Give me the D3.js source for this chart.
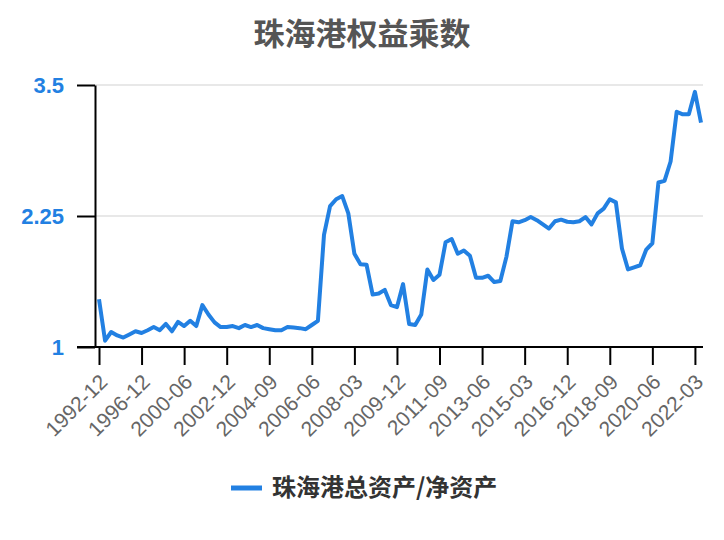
<!DOCTYPE html>
<html>
<head>
<meta charset="utf-8">
<script src="https://cdn.jsdelivr.net/npm/d3@7"></script>
<style>
  body { margin: 0; background: #fff; }
  svg { display: block; }
</style>
</head>
<body>
<div class="chart"></div>
<script>
// report dates (x categories)
var dates = [
  "1992-12", "1993-06", "1993-12", "1994-06", "1994-12", "1995-06", "1995-12",
  "1996-12", "1997-06", "1997-12", "1998-06", "1998-12", "1999-06", "1999-12",
  "2000-06", "2000-12", "2001-06", "2001-12", "2002-03", "2002-06", "2002-09",
  "2002-12",
  "2003-03", "2003-06", "2003-09", "2003-12",
  "2004-03", "2004-06", "2004-09", "2004-12",
  "2005-03", "2005-06", "2005-09", "2005-12",
  "2006-03", "2006-06", "2006-09", "2006-12",
  "2007-03", "2007-06", "2007-09", "2007-12",
  "2008-03", "2008-06", "2008-09", "2008-12",
  "2009-03", "2009-06", "2009-09", "2009-12",
  "2010-03", "2010-06", "2010-09", "2010-12",
  "2011-03", "2011-06", "2011-09", "2011-12",
  "2012-03", "2012-06", "2012-09", "2012-12",
  "2013-03", "2013-06", "2013-09", "2013-12",
  "2014-03", "2014-06", "2014-09", "2014-12",
  "2015-03", "2015-06", "2015-09", "2015-12",
  "2016-03", "2016-06", "2016-09", "2016-12",
  "2017-03", "2017-06", "2017-09", "2017-12",
  "2018-03", "2018-06", "2018-09", "2018-12",
  "2019-03", "2019-06", "2019-09", "2019-12",
  "2020-03", "2020-06", "2020-09", "2020-12",
  "2021-03", "2021-06", "2021-09", "2021-12",
  "2022-03", "2022-06"
];

// 总资产/净资产
var multiplier = [
  1.455, 1.06, 1.143, 1.11, 1.09, 1.12, 1.15,
  1.134, 1.16, 1.19, 1.16, 1.22, 1.15, 1.24,
  1.20, 1.25, 1.20, 1.40, 1.31, 1.235, 1.19,
  1.19,
  1.20, 1.18, 1.21, 1.19,
  1.21, 1.18, 1.17, 1.16,
  1.16, 1.19, 1.185, 1.18,
  1.17, 1.21, 1.25, 2.07,
  2.345, 2.41, 2.44, 2.275,
  1.89, 1.79, 1.785, 1.50,
  1.51, 1.545, 1.40, 1.38,
  1.60, 1.22, 1.21, 1.31,
  1.74, 1.64, 1.69, 2.00,
  2.03, 1.89, 1.92, 1.87,
  1.66, 1.66, 1.68, 1.62,
  1.63, 1.86, 2.20, 2.19,
  2.21, 2.24, 2.21, 2.17,
  2.13, 2.20, 2.215, 2.195,
  2.19, 2.20, 2.24, 2.17,
  2.275, 2.32, 2.41, 2.38,
  1.94, 1.74, 1.76, 1.78,
  1.93, 1.99, 2.57, 2.585,
  2.77, 3.245, 3.22, 3.22,
  3.435, 3.14
];

var xTickLabels = ["1992-12", "1996-12", "2000-06", "2002-12", "2004-09", "2006-06",
  "2008-03", "2009-12", "2011-09", "2013-06", "2015-03", "2016-12", "2018-09",
  "2020-06", "2022-03"];
var yTicks = [1, 2.25, 3.5];

var title = "珠海港权益乘数";
var seriesName = "珠海港总资产/净资产";

var width = 724, height = 540;
var blue = "#2280e2";
var cjk = "'Noto Sans CJK SC', 'Noto Sans', sans-serif";
var latin = "'Liberation Sans', Arial, sans-serif";

var svg = d3.select(".chart").append("svg")
    .attr("width", width)
    .attr("height", height);

var x = d3.scalePoint()
    .domain(dates)
    .range([99, 701]);

var y = d3.scaleLinear()
    .domain([1, 3.5])
    .range([347, 85]);

var axisLeftX = 95, axisRight = 703;

// title
svg.append("text")
    .attr("x", 362)
    .attr("y", 45)
    .attr("text-anchor", "middle")
    .attr("font-family", cjk)
    .attr("font-size", 31)
    .attr("font-weight", "bold")
    .attr("fill", "#555")
    .text(title);

// grid lines
svg.append("g")
    .selectAll("line")
    .data(yTicks.filter(function (d) { return d !== 1; }))
    .enter()
    .append("line")
    .attr("x1", axisLeftX)
    .attr("x2", axisRight)
    .attr("y1", function (d) { return y(d); })
    .attr("y2", function (d) { return y(d); })
    .attr("stroke", "#e0e0e0")
    .attr("stroke-width", 1.5);

// y axis
var gy = svg.append("g")
    .attr("transform", "translate(" + axisLeftX + ",0)")
    .call(d3.axisLeft(y).tickValues(yTicks).tickSize(18).tickSizeOuter(0)
        .tickFormat(function (d) { return String(d); }));
gy.select(".domain").attr("stroke", "#000").attr("stroke-width", 2);
gy.selectAll(".tick line").attr("stroke", "#000").attr("stroke-width", 2);
gy.selectAll(".tick text")
    .attr("x", -31)
    .attr("dy", "0.35em")
    .attr("font-family", latin)
    .attr("font-size", 22)
    .attr("font-weight", "bold")
    .attr("fill", blue);

// x axis
var gx = svg.append("g")
    .attr("transform", "translate(0," + y(1) + ")")
    .call(d3.axisBottom(x).tickValues(xTickLabels).tickSize(18).tickSizeOuter(0));
gx.select(".domain").remove();
gx.append("line")
    .attr("x1", axisLeftX - 18)
    .attr("x2", axisRight)
    .attr("stroke", "#000")
    .attr("stroke-width", 2);
gx.selectAll(".tick line").attr("stroke", "#000").attr("stroke-width", 2);
gx.selectAll(".tick text")
    .attr("text-anchor", "end")
    .attr("transform", "translate(4,31) rotate(-45)")
    .attr("y", 0)
    .attr("dy", "0.35em")
    .attr("font-family", latin)
    .attr("font-size", 21)
    .attr("fill", "#666");

// the line
var line = d3.line()
    .x(function (d, i) { return x(dates[i]); })
    .y(function (d) { return y(d); });

svg.append("path")
    .datum(multiplier)
    .attr("d", line)
    .attr("fill", "none")
    .attr("stroke", blue)
    .attr("stroke-width", 4)
    .attr("stroke-linejoin", "round");

// legend
var legend = svg.append("g").attr("transform", "translate(231,488)");
legend.append("line")
    .attr("x1", 0)
    .attr("x2", 31)
    .attr("stroke", blue)
    .attr("stroke-width", 5);
legend.append("text")
    .attr("x", 41)
    .attr("dy", "0.35em")
    .attr("font-family", cjk)
    .attr("font-size", 24)
    .attr("font-weight", "bold")
    .attr("fill", "#333")
    .text(seriesName);
</script>
</body>
</html>
